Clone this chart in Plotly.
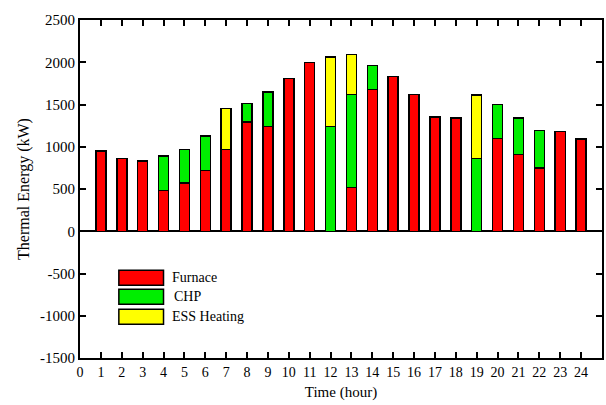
import plotly.graph_objects as go

hours = list(range(1, 25))
furnace = [950, 860, 830, 480, 570, 720, 970, 1290, 1240, 1810, 2000, 0,
           520, 1680, 1830, 1620, 1350, 1340, 0, 1100, 910, 750, 1180, 1090]
chp = [0, 0, 0, 410, 400, 410, 0, 220, 410, 0, 0, 1240,
       1100, 280, 0, 0, 0, 0, 860, 400, 430, 440, 0, 0]
ess = [0, 0, 0, 0, 0, 0, 480, 0, 0, 0, 0, 820,
       470, 0, 0, 0, 0, 0, 750, 0, 0, 0, 0, 0]
series_names = ["Furnace", "CHP", "ESS Heating"]
colors = ["#ff0000", "#00ee00", "#ffff00"]
yticks = [-1500, -1000, -500, 0, 500, 1000, 1500, 2000, 2500]
xticks = list(range(0, 25))

fig = go.Figure()
for name, vals, col in zip(series_names, [furnace, chp, ess], colors):
    fig.add_trace(go.Bar(x=hours, y=vals, name=name, width=0.48,
                         marker=dict(color=col, line=dict(color="black", width=1.5)),
                         showlegend=False))

FAM = "Liberation Serif"
font = dict(family=FAM, size=14, color="black")

# custom legend (large swatches)
ly = [(-462, -639), (-686, -864), (-923, -1100)]
for (y0, y1), name, col in zip(ly, series_names, colors):
    fig.add_shape(type="rect", x0=1.86, x1=4.0, y0=y1, y1=y0, xref="x", yref="y",
                  fillcolor=col, line=dict(color="black", width=1.5), layer="above")
    fig.add_annotation(x=4.3 if name != "CHP" else 4.4, y=(y0 + y1) / 2, text=name,
                       xref="x", yref="y", showarrow=False, xanchor="left",
                       font=dict(family=FAM, size=14, color="black"))

fig.update_layout(
    barmode="stack",
    width=606, height=405,
    margin=dict(l=80, r=2, t=20, b=47),
    plot_bgcolor="white", paper_bgcolor="white",
    font=font,
    xaxis=dict(range=[0, 25], tickvals=xticks, ticktext=[str(v) for v in xticks],
               ticks="inside", ticklen=6, tickwidth=2, tickcolor="black",
               tickfont=dict(family=FAM, size=14, color="black"),
               showline=True, linewidth=2, linecolor="black", mirror="ticks",
               showgrid=False, zeroline=False,
               title=dict(text="Time (hour)", font=dict(family=FAM, size=15, color="black"),
                          standoff=8)),
    yaxis=dict(range=[-1500, 2500], tickvals=yticks, ticktext=[str(v) for v in yticks],
               ticks="inside", ticklen=6, tickwidth=2, tickcolor="black",
               tickfont=dict(family=FAM, size=15, color="black"),
               showline=True, linewidth=2, linecolor="black", mirror="ticks",
               showgrid=False, zeroline=True, zerolinecolor="black", zerolinewidth=2,
               title=dict(text="Thermal Energy (kW)", font=dict(family=FAM, size=16, color="black"),
                          standoff=6)),
)

fig.write_html("out.html", config={"displayModeBar": False},
               post_script="document.body.style.margin='0';")
